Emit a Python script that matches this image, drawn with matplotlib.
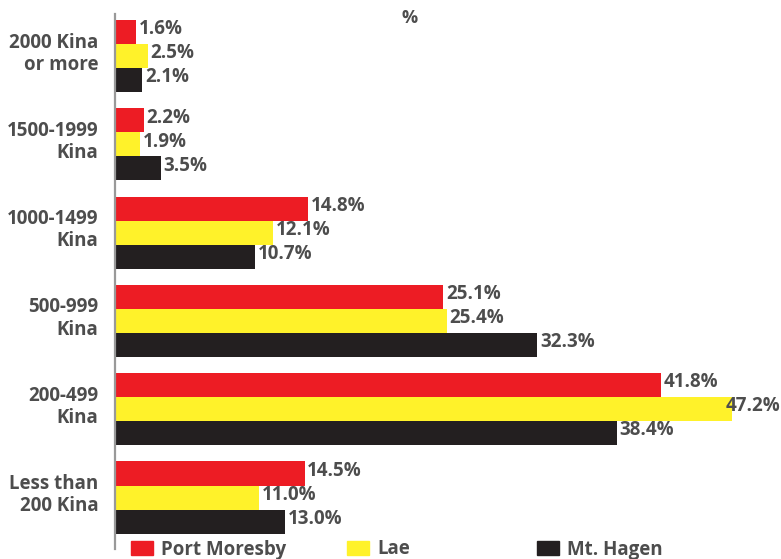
import matplotlib.pyplot as plt
import matplotlib.transforms as mtransforms
import numpy as np
from matplotlib.patches import Patch

plt.rcParams['font.family'] = ['Open Sans', 'DejaVu Sans']

# data
categories = ["2000 Kina\nor more", "1500-1999\nKina", "1000-1499\nKina",
              "500-999\nKina", "200-499\nKina", "Less than\n200 Kina"]
series_names = ["Port Moresby", "Lae", "Mt. Hagen"]
port_moresby = [1.6, 2.2, 14.8, 25.1, 41.8, 14.5]
lae = [2.5, 1.9, 12.1, 25.4, 47.2, 11.0]
mt_hagen = [2.1, 3.5, 10.7, 32.3, 38.4, 13.0]

colors = ["#ED1C24", "#FFF22A", "#231F20"]
text_col = "#4D4D4D"

W, H = 781, 559
fig = plt.figure(figsize=(W / 100, H / 100), dpi=100)
ax = fig.add_axes([115 / W, 1 - 549 / H, 666 / W, 535 / H])

y = np.arange(len(categories))
bh = 0.272
labels = []
for i, (vals, c) in enumerate(zip([port_moresby, lae, mt_hagen], colors)):
    pos = y + (i - 1) * bh
    ax.barh(pos, vals, height=bh, color=c)
    for p, v in zip(pos, vals):
        t = ax.annotate(f"{v:.1f}%", (v, p), xytext=(2, 2), textcoords="offset points",
                        ha="left", va="center", fontsize=13.5, fontweight="bold",
                        color=text_col, annotation_clip=False)
        labels.append(t)

ax.set_xlim(0, 50.96)
ax.set_ylim(5.583, -0.476)
ax.set_yticks(y)
ax.set_yticklabels(categories, fontsize=13.5, fontweight="bold", color=text_col,
                   linespacing=1.15)
ax.tick_params(axis="y", length=0, pad=12)
ax.set_xticks([])
shift = mtransforms.ScaledTranslation(0, 6 / 100, fig.dpi_scale_trans)
for lab in ax.get_yticklabels():
    lab.set_transform(lab.get_transform() + shift)
for s in ["top", "right", "bottom"]:
    ax.spines[s].set_visible(False)
ax.spines["left"].set_color("#999999")
ax.spines["left"].set_linewidth(1.6)

fig.text(410 / W, 1 - 18 / H, "%", ha="center", va="center", fontsize=13,
         fontweight="bold", color=text_col)

# legend, one entry per block to match the uneven spacing
for name, c, x0 in zip(series_names, colors, [131, 347, 537]):
    fig.legend(handles=[Patch(color=c, label=name)], loc="center left",
               bbox_to_anchor=(x0 / W, 1 - 549.5 / H), frameon=False,
               borderpad=0, borderaxespad=0, handlelength=1.17, handleheight=0.83,
               handletextpad=0.45, prop={"size": 13.5, "weight": "bold"},
               labelcolor=text_col)

# pull any value label that runs past the right edge back inside
fig.canvas.draw()
r = fig.canvas.get_renderer()
for t in labels:
    bb = t.get_window_extent(r)
    if bb.x1 > W - 1:
        dx = (bb.x1 - (W - 1)) * 72 / fig.dpi
        t.xyann = (t.xyann[0] - dx, t.xyann[1])

fig.savefig("out.png", dpi=100)
